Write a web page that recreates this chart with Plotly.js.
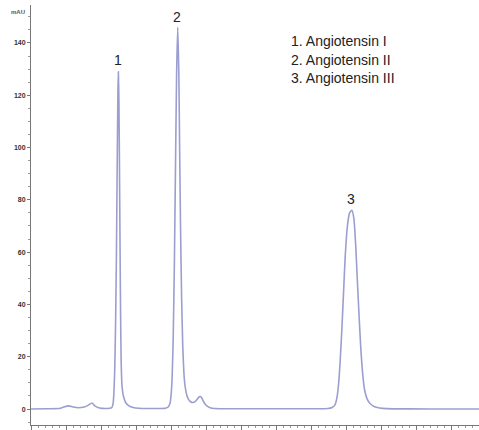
<!DOCTYPE html>
<html>
<head>
<meta charset="utf-8">
<script src="https://cdn.plot.ly/plotly-3.0.1.min.js"></script>
<style>html,body{margin:0;padding:0;background:#fff;}#chart{width:479px;height:430px;}</style>
</head>
<body>
<div id="chart"></div>
<script>
// Retention time (min) and absorbance (mAU)
const timeMin = [
  0.00, 0.60, 1.05, 1.20, 1.35, 1.50, 1.70, 1.90, 2.05, 2.18, 2.28, 2.45, 2.65,
  2.80, 2.88, 2.93, 2.96, 2.99, 3.02, 3.05, 3.08, 3.105, 3.12, 3.14, 3.16, 3.18, 3.20, 3.22, 3.25, 3.30, 3.38, 3.50, 3.65, 3.85,
  4.20, 4.60, 4.80, 4.90, 4.96, 5.00, 5.04, 5.08, 5.12, 5.16, 5.20, 5.24, 5.28, 5.31, 5.34, 5.38, 5.42, 5.46, 5.50, 5.56, 5.62, 5.70, 5.78, 5.86, 5.94, 6.00, 6.05, 6.10, 6.18, 6.28, 6.40, 6.55,
  7.50, 9.00, 10.20, 10.60, 10.75, 10.85, 10.92, 10.98, 11.04, 11.10, 11.16, 11.22, 11.30, 11.38, 11.46, 11.53, 11.60, 11.66, 11.72, 11.78, 11.85, 11.92, 12.00, 12.10, 12.25, 12.45, 12.70,
  13.50, 15.00, 16.00
];
const absorbance = [
  0.0, 0.1, 0.3, 0.9, 1.2, 0.8, 0.5, 0.8, 1.5, 2.3, 1.2, 0.4, 0.2,
  0.3, 0.5, 2, 6, 15, 32, 58, 95, 122, 129, 118, 92, 62, 36, 18, 9, 5, 2.5, 1.2, 0.6, 0.3,
  0.2, 0.2, 0.3, 0.8, 2, 5, 12, 28, 55, 92, 128, 146, 128, 98, 70, 42, 24, 14, 9, 5.5, 3.8, 2.8, 2.5, 2.8, 3.8, 4.6, 4.8, 4.2, 2.5, 1.2, 0.5, 0.2,
  0.1, 0.1, 0.1, 0.2, 0.6, 1.5, 4, 9, 18, 30, 44, 58, 70, 75, 76, 73, 62, 48, 35, 23, 13, 7, 4, 2.2, 1.0, 0.4, 0.15,
  0.05, 0.0, 0.0
];

const peakLabels = ["1", "2", "3"];
const peakTimes = [3.12, 5.21, 11.43];
const peakLabelHeights = [133.5, 150, 80.3];

const legendLines = ["1. Angiotensin I", "2. Angiotensin II", "3. Angiotensin III"];
const legendHeights = [140.8, 133.5, 126.6];

const yTickVals = [0, 20, 40, 60, 80, 100, 120, 140];
const yTickText = ["0", "20", "40", "60", "80", "100", "120", "140"];

const font = "Liberation Sans, Arial, Helvetica, sans-serif";

const annotations = [];
peakLabels.forEach((t, i) => annotations.push({
  x: peakTimes[i], y: peakLabelHeights[i], xref: "x", yref: "y", text: t,
  showarrow: false, xanchor: "center", yanchor: "middle",
  font: {family: font, size: 14, color: "#222"}
}));
legendLines.forEach((t, i) => annotations.push({
  x: 9.2, y: legendHeights[i], xref: "x", yref: "y", text: t,
  showarrow: false, xanchor: "left", yanchor: "middle",
  font: {family: font, size: 14, color: "#222"}
}));
annotations.push({
  x: 0, y: 152, xref: "paper", yref: "y", text: "<b>mAU</b>", showarrow: false,
  xanchor: "right", yanchor: "middle", xshift: -4,
  font: {family: font, size: 6, color: "#555"}
});

Plotly.newPlot("chart", [{
  x: timeMin, y: absorbance, type: "scatter", mode: "lines",
  line: {color: "#9c9ed0", width: 1.6, shape: "spline", smoothing: 0.5},
  hoverinfo: "skip"
}], {
  width: 479, height: 430,
  margin: {l: 31, r: 0, t: 5, b: 5, autoexpand: false},
  paper_bgcolor: "#fff", plot_bgcolor: "#fff",
  showlegend: false,
  xaxis: {
    range: [0, 16], showgrid: false, zeroline: false,
    showline: true, linecolor: "#777", linewidth: 1,
    ticks: "outside", ticklen: 4, tickcolor: "#777", dtick: 1.25, tick0: 0,
    minor: {ticks: "outside", ticklen: 2, tickcolor: "#999", dtick: 0.25},
    showticklabels: false
  },
  yaxis: {
    range: [-6.1, 154.5], showgrid: false, zeroline: false,
    showline: true, linecolor: "#777", linewidth: 1,
    ticks: "outside", ticklen: 3, tickcolor: "#777",
    tickvals: yTickVals, ticktext: yTickText,
    minor: {ticks: "outside", ticklen: 2, tickcolor: "#999", dtick: 5},
    tickfont: {family: font, size: 7, color: "#333", weight: "bold"}
  },
  annotations: annotations
}, {displayModeBar: false, staticPlot: true});
</script>
</body>
</html>
